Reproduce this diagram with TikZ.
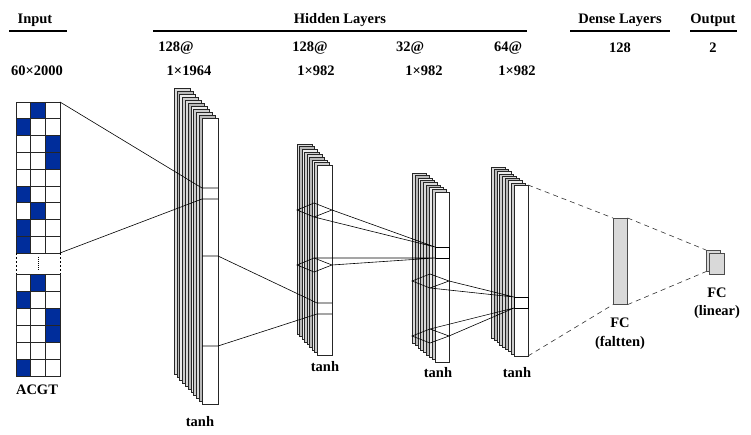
\documentclass[tikz,border=0pt]{standalone}
\usepackage{fontspec}
\setmainfont{Liberation Serif}
\definecolor{dnablue}{RGB}{0,45,155}
\definecolor{fcgray}{RGB}{217,217,217}
\newcommand\cnnstack[7]{% bx, by, fx, fy, w, h, n
  \foreach \i in {0,...,#7}{%
    \pgfmathsetmacro\px{#1+(#3-#1)*\i/#7}%
    \pgfmathsetmacro\py{#2+(#4-#2)*\i/#7}%
    \pgfmathtruncatemacro\cc{mod(\i,4)}%
    \ifnum\i=#7 \def\fc{white}\else
      \ifcase\cc \def\fc{gray!30}\or\def\fc{gray!55}\or\def\fc{gray!15}\or\def\fc{gray!40}\fi
    \fi
    \draw[panel,fill=\fc] (\px,\py) rectangle ++(#5,#6);
  }%
}
\begin{document}
\begin{tikzpicture}[x=1pt,y=-1pt,
  txt/.style={font=\bfseries\fontsize{14.5}{16}\selectfont, inner sep=0pt, anchor=center},
  hrule/.style={line width=1.2pt},
  panel/.style={line width=0.45pt, draw=black!85},
  cell/.style={line width=0.6pt, draw=black!85},
  conn/.style={line width=0.6pt, draw=black},
  dconn/.style={line width=0.6pt, draw=black!80, dash pattern=on 5pt off 4pt},
  fcbox/.style={line width=0.6pt, draw=black!70, fill=fcgray}]
\useasboundingbox (0,0) rectangle (751,435);
\fill[white] (0,0) rectangle (751,435);

% ---------- header ----------
\node[txt] (hin) at (35,20) {Input};
\node[txt] (hhid) at (340,20) {Hidden Layers};
\node[txt] (hden) at (620,20) {Dense Layers};
\node[txt] (hout) at (713,20) {Output};
\draw[hrule] (9,31) -- (67,31);
\draw[hrule] (153,31) -- (527,31);
\draw[hrule] (570,31) -- (670,31);
\draw[hrule] (690,31) -- (737,31);

\node[txt] (n1a) at (176,48) {128@};
\node[txt] (n1b) at (189,71) {1×1964};
\node[txt] (n2a) at (310,48) {128@};
\node[txt] (n2b) at (316,71) {1×982};
\node[txt] (n3a) at (410,48) {32@};
\node[txt] (n3b) at (424,71) {1×982};
\node[txt] (n4a) at (508,48) {64@};
\node[txt] (n4b) at (517,71) {1×982};
\node[txt] (n5a) at (620,48) {128};
\node[txt] (n6a) at (713,48) {2};
\node[txt] (n0b) at (37,71) {60×2000};

% ---------- input grid ----------
\foreach \b [count=\r from 0] in {2,1,3,3,0,1,2,1,1} {
  \foreach \c in {1,2,3} {
    \pgfmathsetmacro\xx{16+(\c-1)*14.667}
    \pgfmathsetmacro\yy{102+\r*16.78}
    \ifnum\c=\b \def\cf{dnablue}\else\def\cf{white}\fi
    \draw[cell,fill=\cf] (\xx,\yy) rectangle ++(14.667,16.78);
  }
}
\foreach \b [count=\r from 0] in {2,1,3,3,0,1} {
  \foreach \c in {1,2,3} {
    \pgfmathsetmacro\xx{16+(\c-1)*14.667}
    \pgfmathsetmacro\yy{274+\r*17}
    \ifnum\c=\b \def\cf{dnablue}\else\def\cf{white}\fi
    \draw[cell,fill=\cf] (\xx,\yy) rectangle ++(14.667,17);
  }
}
\draw[line width=0.5pt, dash pattern=on 2pt off 2pt] (16,253) -- (16,274) (60,253) -- (60,274);
\draw[line width=1pt, dash pattern=on 1pt off 1pt] (38,257) -- (38,271);
\node[txt] (acgt) at (37,390) {ACGT};

% ---------- conv stacks ----------
\cnnstack{174}{88}{202}{118}{16}{286}{10}
\cnnstack{297}{144}{317}{165}{15}{190}{8}
\cnnstack{412}{173}{435}{192}{14}{170}{8}
\cnnstack{491}{167}{514}{185}{14}{171}{8}

\node[txt] (t1) at (200,422) {tanh};
\node[txt] (t2) at (325,367) {tanh};
\node[txt] (t3) at (438,373) {tanh};
\node[txt] (t4) at (517,373) {tanh};

% ---------- named points ----------
\coordinate (g1) at (60,102);
\coordinate (g2) at (60,253);
\coordinate (a1) at (202,188);
\coordinate (a2) at (202,199);
\coordinate (b1) at (218,256);
\coordinate (b2) at (218,346);
\coordinate (c1) at (317,303);
\coordinate (c2) at (317,314);
\coordinate (m3t) at (435,247);
\coordinate (m3b) at (435,258);
\coordinate (m4t) at (514,297);
\coordinate (m4b) at (514,308);

% input -> stack 1
\draw[conn] (g1) -- (a1) -- ++(16,0);
\draw[conn] (g2) -- (a2) -- ++(16,0);
% stack 1 -> stack 2
\draw[conn] (202,256) -- (b1) -- (c1) -- ++(15,0);
\draw[conn] (202,346) -- (b2) -- (c2) -- ++(15,0);

% stack 2 kernels -> stack 3
\draw[conn] (297,210) coordinate (d1l) -- (314,203) coordinate (d1t) -- (332,210) coordinate (d1r) -- (314,217) coordinate (d1b) -- cycle;
\draw[conn] (297,265) coordinate (d2l) -- (314,258) coordinate (d2t) -- (332,265) coordinate (d2r) -- (314,272) coordinate (d2b) -- cycle;
\draw[conn] (d1r) -- (m3t) (d1b) -- (m3t);
\draw[conn] (d2t) -- (m3b) (d2r) -- (m3b);
\draw[conn] (m3t) rectangle ++(14,11);

% stack 3 kernels -> stack 4
\draw[conn] (412,281) coordinate (d3l) -- (430,274) coordinate (d3t) -- (449,281) coordinate (d3r) -- (430,288) coordinate (d3b) -- cycle;
\draw[conn] (412,336) coordinate (d4l) -- (430,329) coordinate (d4t) -- (449,336) coordinate (d4r) -- (430,343) coordinate (d4b) -- cycle;
\draw[conn] (d3r) -- (m4t) (d3b) -- (m4t);
\draw[conn] (d4t) -- (m4b) (d4r) -- (m4b);
\draw[conn] (m4t) rectangle ++(14,11);

% ---------- dense layers ----------
\node[fcbox, minimum width=14pt, minimum height=86pt, inner sep=0pt, anchor=north west] (fc1) at (613,218) {};
\node[fcbox, minimum width=14pt, minimum height=21pt, inner sep=0pt, anchor=north west] (fc2b) at (706,250) {};
\node[fcbox, minimum width=15pt, minimum height=21pt, inner sep=0pt, anchor=north west] (fc2) at (709,253) {};

\coordinate (s4t) at (528,185);
\coordinate (s4b) at (528,356);
\draw[dconn] (s4t) -- (fc1.north west);
\draw[dconn] (s4b) -- (fc1.south west);
\draw[dconn] (fc1.north east) -- (fc2b.north west);
\draw[dconn] (fc1.south east) -- (fc2b.south west);

\node[txt] (fcl1) at (620,323) {FC};
\node[txt] (fcl2) at (620,343) {(faltten)};
\node[txt] (fcl3) at (717,293) {FC};
\node[txt] (fcl4) at (717,312) {(linear)};
\end{tikzpicture}
\end{document}
